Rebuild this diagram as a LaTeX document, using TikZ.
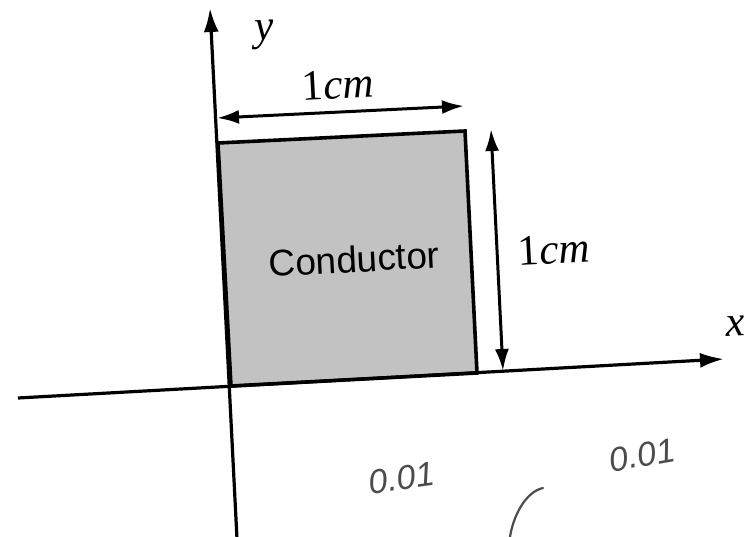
\documentclass[tikz,border=0pt]{standalone}
\usepackage{fontspec}
\setmainfont{Liberation Serif}
\newfontfamily\arialfont{Liberation Sans}
\usetikzlibrary{arrows.meta}
\tikzset{
  axisline/.style={line width=3.2pt, -{Latex[length=24pt,width=15pt]}},
  dimline/.style={line width=3pt, {Latex[length=22pt,width=14pt]}-{Latex[length=22pt,width=14pt]}},
  lbl/.style={font=\fontsize{43}{46}\selectfont, inner sep=0pt, rotate=3},
  hand/.style={font=\arialfont\itshape\fontsize{34}{36}\selectfont, text=black!70, inner sep=0pt}
}
\begin{document}
\begin{tikzpicture}[x=1pt,y=1pt]
\useasboundingbox (0,0) rectangle (746,537);
% axes
\coordinate (ybot) at (237,-2);
\coordinate (ytop) at (210,529);
\coordinate (xleft) at (18,139);
\coordinate (xright) at (724,178);
% conductor corners
\coordinate (tl) at (218,394);
\coordinate (tr) at (465,406);
\coordinate (br) at (477,164);
\coordinate (bl) at (231,151);
\fill[black!24] (tl) -- (tr) -- (br) -- (bl) -- cycle;
\draw[line width=3.6pt, line join=miter] (tl) -- (tr) -- (br) -- (bl) -- cycle;
\draw[axisline] (ybot) -- (ytop);
\draw[axisline] (xleft) -- (xright);
% dimension arrows
\coordinate (hl) at (217,419);
\coordinate (hr) at (464,431);
\coordinate (vt) at (491,408);
\coordinate (vb) at (503,166);
\draw[dimline] (hl) -- (hr);
\draw[dimline] (vt) -- (vb);
% labels
\node[lbl] (wlab) at (338,452) {1\textit{cm}};
\node[lbl] (hlab) at (554,287) {1\textit{cm}};
\node[lbl] (ylab) at (265,502) {\textit{y}};
\node[lbl] (xlab) at (736,211) {\textit{x}};
\node[font=\arialfont\fontsize{37}{40}\selectfont, inner sep=0pt, rotate=3] (cond) at (354,278) {Conductor};
% handwritten notes
\node[hand, rotate=8] (n1) at (402,59) {0.01};
\node[hand, rotate=10] (n2) at (642,82) {0.01};
\draw[black!70, line width=2.2pt, line cap=round] (543,49) .. controls (525,45) and (513,20) .. (510,0);
\end{tikzpicture}
\end{document}
